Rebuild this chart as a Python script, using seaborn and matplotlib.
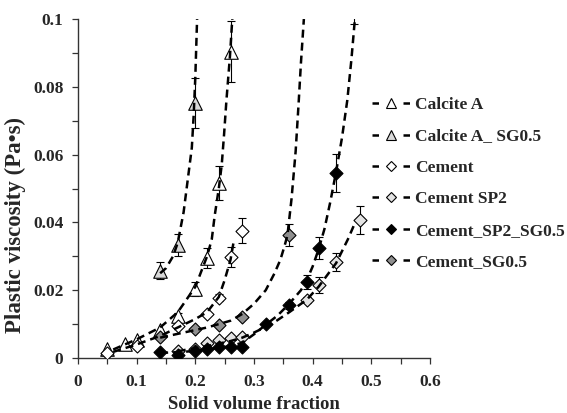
import matplotlib
matplotlib.use("Agg")
import matplotlib.pyplot as plt
import seaborn as sns
import numpy as np
from matplotlib.lines import Line2D

# ---------------- data ----------------
series_names = ["Calcite A", "Calcite A_ SG0.5", "Cement", "Cement SP2",
                "Cement_SP2_SG0.5", "Cement_SG0.5"]

calA_x = [0.05, 0.08, 0.10, 0.14, 0.17, 0.20, 0.22, 0.24, 0.26]
calA_y = [0.0028, 0.0040, 0.0053, 0.0082, 0.0123, 0.0203, 0.0295, 0.0516, 0.0903]
calA_e = [0, 0, 0, 0, 0.001, 0.002, 0.003, 0.005, 0.009]

calSG_x = [0.14, 0.17, 0.20]
calSG_y = [0.0257, 0.0333, 0.0752]
calSG_e = [0.0025, 0.0033, 0.0075]

cem_x = [0.05, 0.10, 0.17, 0.22, 0.24, 0.26, 0.28]
cem_y = [0.0015, 0.0034, 0.0095, 0.0130, 0.0178, 0.0298, 0.0375]
cem_e = [0, 0, 0, 0, 0.001, 0.003, 0.0037]

sp2_x = [0.17, 0.20, 0.22, 0.24, 0.26, 0.28, 0.39, 0.41, 0.44, 0.48]
sp2_y = [0.0022, 0.0026, 0.0044, 0.0053, 0.0059, 0.0062, 0.0171, 0.0215, 0.0283, 0.0407]
sp2_e = [0, 0, 0, 0, 0, 0, 0.001, 0.0024, 0.0027, 0.0042]

spsg_x = [0.14, 0.17, 0.20, 0.22, 0.24, 0.26, 0.28, 0.32, 0.36, 0.39, 0.41, 0.44, 0.47]
spsg_y = [0.0018, 0.0010, 0.0020, 0.0028, 0.0033, 0.0031, 0.0033, 0.0100, 0.0155, 0.0225, 0.0324, 0.0546, 0.110]
spsg_e = [0, 0, 0, 0, 0, 0, 0, 0, 0.001, 0.002, 0.0032, 0.0055, 0.0115]

cemsg_x = [0.14, 0.20, 0.24, 0.28, 0.36]
cemsg_y = [0.0063, 0.0086, 0.0097, 0.0122, 0.0362]
cemsg_e = [0, 0, 0, 0, 0.0033]

# fitted trend curves
fit_calA_x = [0.06, 0.10, 0.14, 0.17, 0.20, 0.22, 0.228, 0.233, 0.24, 0.245, 0.249, 0.253, 0.259, 0.263]
fit_calA_y = [0.0025, 0.0055, 0.0090, 0.0135, 0.0210, 0.0300, 0.0350, 0.0420, 0.0500, 0.0570, 0.0660, 0.0760, 0.0890, 0.1000]
fit_calSG_x = [0.14, 0.15, 0.162, 0.17, 0.18, 0.187, 0.194, 0.197, 0.200, 0.203]
fit_calSG_y = [0.0250, 0.0265, 0.0300, 0.0340, 0.0430, 0.0525, 0.0620, 0.0710, 0.0830, 0.1000]
fit_cem_x = [0.06, 0.10, 0.14, 0.17, 0.20, 0.22, 0.24, 0.25, 0.26, 0.266]
fit_cem_y = [0.0018, 0.0040, 0.0065, 0.0090, 0.0115, 0.0135, 0.0180, 0.0230, 0.0290, 0.0350]
fit_sp2_x = [0.17, 0.22, 0.26, 0.28, 0.30, 0.33, 0.36, 0.39, 0.41, 0.44, 0.46, 0.47]
fit_sp2_y = [0.0020, 0.0035, 0.0050, 0.0060, 0.0075, 0.0100, 0.0135, 0.0172, 0.0210, 0.0280, 0.0350, 0.0390]
fit_spsg_x = [0.14, 0.18, 0.22, 0.26, 0.28, 0.30, 0.32, 0.34, 0.36, 0.38, 0.39, 0.40, 0.41, 0.42, 0.43, 0.44, 0.45, 0.459, 0.466, 0.472]
fit_spsg_y = [0.0015, 0.0018, 0.0025, 0.0035, 0.0045, 0.0070, 0.0098, 0.0125, 0.0160, 0.0200, 0.0230, 0.0270, 0.0320, 0.0380, 0.0460, 0.0550, 0.0650, 0.0760, 0.0880, 0.1000]
fit_cemsg_x = [0.14, 0.18, 0.22, 0.26, 0.28, 0.30, 0.32, 0.335, 0.345, 0.352, 0.357, 0.364, 0.371, 0.376, 0.380, 0.385]
fit_cemsg_y = [0.0060, 0.0075, 0.0090, 0.0110, 0.0130, 0.0160, 0.0200, 0.0250, 0.0290, 0.0330, 0.0362, 0.0470, 0.0610, 0.0750, 0.0870, 0.1000]

x_ticks = [0, 0.1, 0.2, 0.3, 0.4, 0.5, 0.6]
x_tick_labels = ["0", "0.1", "0.2", "0.3", "0.4", "0.5", "0.6"]
y_ticks = [0, 0.02, 0.04, 0.06, 0.08, 0.1]
y_tick_labels = ["0", "0.02", "0.04", "0.06", "0.08", "0.1"]

# ---------------- style ----------------
sns.set_style("ticks")
plt.rcParams['font.family'] = ['Liberation Serif', 'DejaVu Serif']
plt.rcParams['font.weight'] = 'bold'

W, H = 567, 413
fig = plt.figure(figsize=(W / 100, H / 100), dpi=100)
ax = fig.add_axes([78 / W, 1 - 358 / H, (430 - 78) / W, (358 - 19) / H])

styles = [
    dict(marker="^", fc="white", s=95),
    dict(marker="^", fc="#d9d9d9", s=95),
    dict(marker="D", fc="white", s=44),
    dict(marker="D", fc="#e3e3e3", s=44),
    dict(marker="D", fc="black", s=44),
    dict(marker="D", fc="#8f8f8f", s=44),
]
pts = [(calA_x, calA_y, calA_e), (calSG_x, calSG_y, calSG_e), (cem_x, cem_y, cem_e),
       (sp2_x, sp2_y, sp2_e), (spsg_x, spsg_y, spsg_e), (cemsg_x, cemsg_y, cemsg_e)]
fits = [(fit_calA_x, fit_calA_y), (fit_calSG_x, fit_calSG_y), (fit_cem_x, fit_cem_y),
        (fit_sp2_x, fit_sp2_y), (fit_spsg_x, fit_spsg_y), (fit_cemsg_x, fit_cemsg_y)]

dash = (0, (3.2, 2.0))
for (x, y, e), st in zip(pts, styles):
    x = np.array(x); y = np.array(y); e = np.array(e)
    m = e > 0
    ax.errorbar(x[m], y[m], yerr=e[m], fmt='none', ecolor='black',
                elinewidth=0.8, capsize=3, capthick=0.8, zorder=2)
    sns.scatterplot(x=x, y=y, marker=st["marker"], s=st["s"], color=st["fc"],
                    edgecolor="black", linewidth=0.8, ax=ax, zorder=3, legend=False)

for fx, fy in fits:
    n_before = len(ax.lines)
    sns.lineplot(x=fx, y=fy, sort=False, estimator=None, color="black",
                 linewidth=1.8, ax=ax, zorder=4, legend=False)
    for ln in ax.lines[n_before:]:
        ln.set_linestyle(dash)

ax.set_xlim(0, 0.6)
ax.set_ylim(0, 0.1)
ax.set_xticks(x_ticks)
ax.set_xticklabels(x_tick_labels)
ax.set_xticks([0.05, 0.15, 0.25, 0.35, 0.45, 0.55], minor=True)
ax.set_yticks(y_ticks)
ax.set_yticklabels(y_tick_labels)
ax.set_yticks([0.01, 0.03, 0.05, 0.07, 0.09], minor=True)
for lbl in ax.get_xticklabels() + ax.get_yticklabels():
    lbl.set_fontweight('bold')
ax.tick_params(axis='both', which='both', direction='out', length=4.5, width=0.9,
               color='#333333', labelsize=12.5)
ax.tick_params(axis='x', pad=7)
ax.tick_params(axis='y', pad=6)
for sp in ['top', 'right']:
    ax.spines[sp].set_visible(False)
for sp in ['left', 'bottom']:
    ax.spines[sp].set_color('#333333')
    ax.spines[sp].set_linewidth(1.0)
ax.grid(False)

ax.set_xlabel("Solid volume fraction", fontsize=13.5, fontweight='bold')
ax.xaxis.set_label_coords(0.5, -0.112)
ax.set_ylabel("Plastic viscosity (Pa•s)", fontsize=16.5, fontweight='bold')
ax.yaxis.set_label_coords(-0.148, 0.392)

handles = []
leg_ms = [6.5, 6.5, 5.0, 5.0, 5.0, 5.0]
for st, ms in zip(styles, leg_ms):
    handles.append(Line2D([0], [0], color='black', linewidth=1.8,
                          linestyle=(0, (2.6, 9.8)), marker=st["marker"], markersize=ms,
                          markerfacecolor=st["fc"], markeredgecolor='black',
                          markeredgewidth=0.8))
leg = fig.legend(handles, series_names, loc='upper left',
                 bbox_to_anchor=(372 / W, 1 - 97 / H), frameon=False,
                 prop={'family': 'Liberation Serif', 'weight': 'bold', 'size': 12.5},
                 handlelength=2.2, handletextpad=0.3, labelspacing=0.88,
                 borderpad=0, borderaxespad=0, numpoints=1)

fig.savefig("out.png", dpi=100)
